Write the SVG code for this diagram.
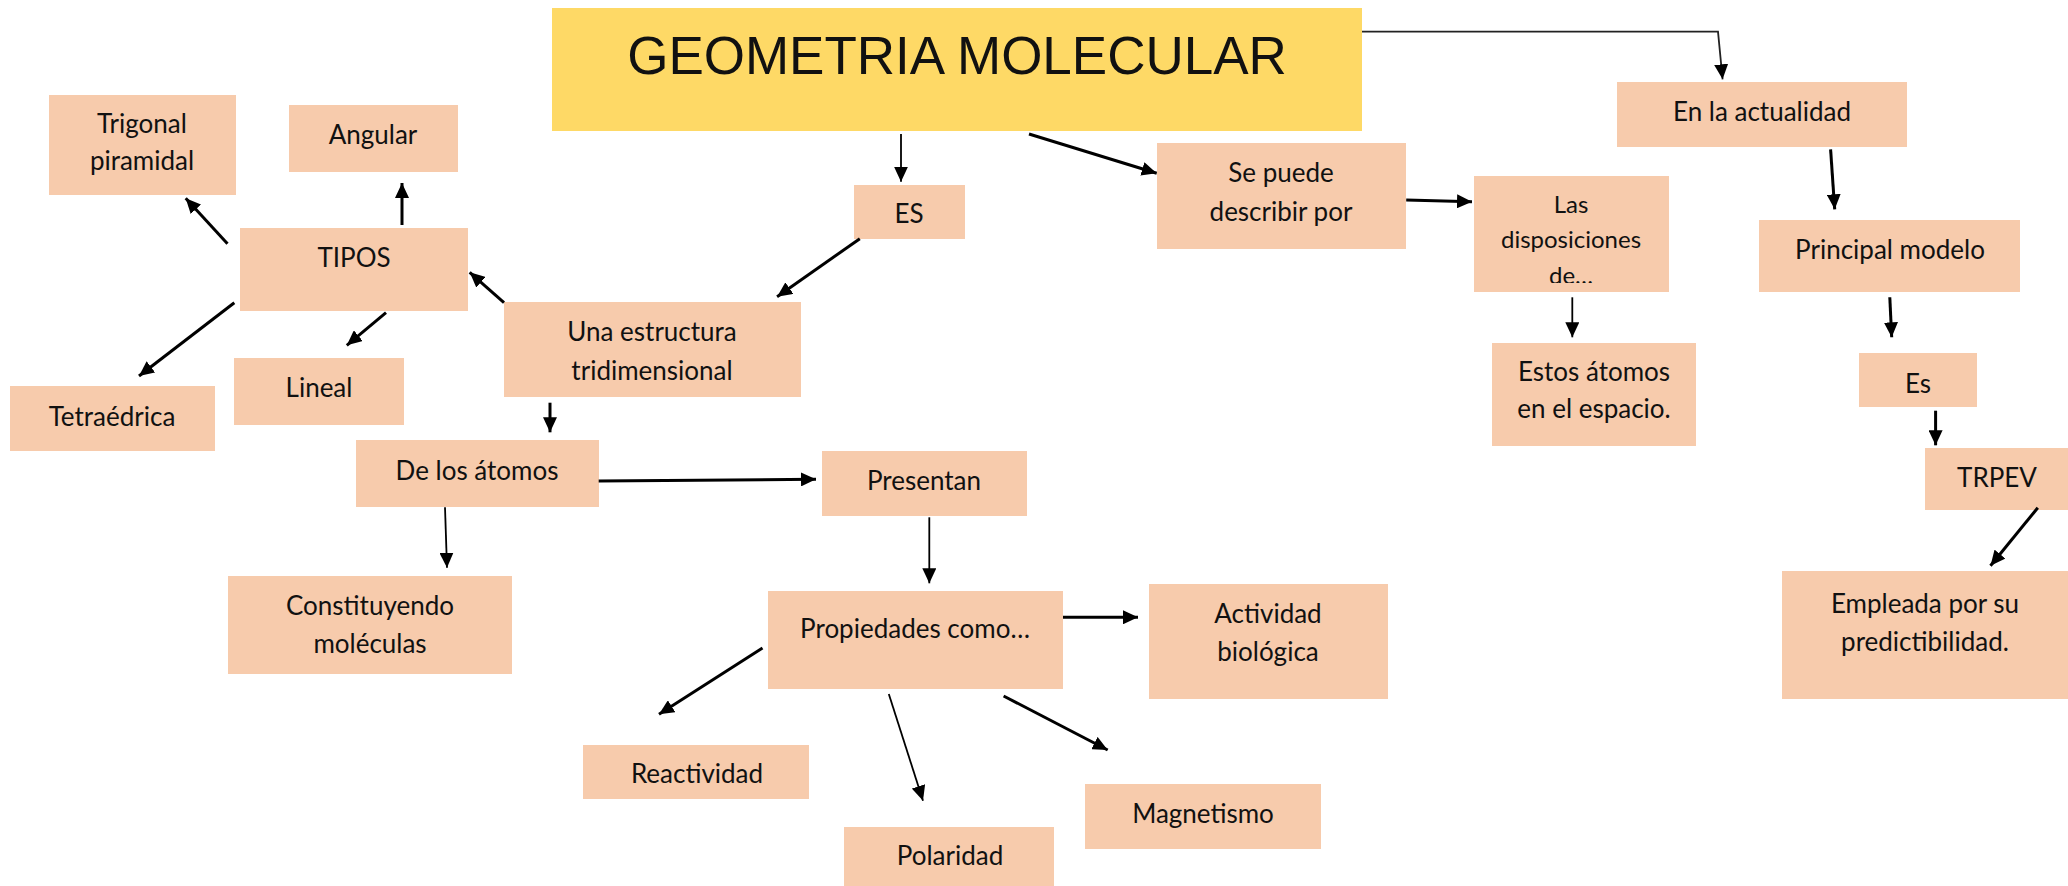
<svg xmlns="http://www.w3.org/2000/svg" width="2068" height="886" viewBox="0 0 2068 886">
<style>
.n{fill:#F7CBAC}
.t{font-family:Lato,"Liberation Sans",sans-serif;font-size:26px;fill:#111;text-anchor:middle}
.title{font-family:"Liberation Sans",Arial,sans-serif;font-size:53px;fill:#111;text-anchor:middle}
.c{stroke:#000;stroke-width:3;fill:none;marker-end:url(#ah)}
.th{stroke-width:1.8}
</style>
<defs>
<marker id="ah" markerUnits="userSpaceOnUse" markerWidth="16" markerHeight="14" refX="15" refY="7" orient="auto">
<path d="M0,0 L15,7 L0,14 Z" fill="#000"/>
</marker>
<clipPath id="clipLas"><rect x="1474" y="176" width="195" height="107"/></clipPath>
</defs>
<rect width="2068" height="886" fill="#fff"/>

<g id="title">
<rect x="552" y="8" width="810" height="123" fill="#FED966"/>
<text class="title" x="957" y="74">GEOMETRIA MOLECULAR</text>
</g>
<g id="trigonal"><rect class="n" x="49" y="95" width="187" height="100"/><text class="t" x="142" y="133">Trigonal</text><text class="t" x="142" y="170">piramidal</text></g>
<g id="angular"><rect class="n" x="289" y="105" width="169" height="67"/><text class="t" x="373" y="144">Angular</text></g>
<g id="tipos"><rect class="n" x="240" y="228" width="228" height="83"/><text class="t" x="354" y="267">TIPOS</text></g>
<g id="estructura"><rect class="n" x="504" y="302" width="297" height="95"/><text class="t" x="652" y="341">Una estructura</text><text class="t" x="652" y="380">tridimensional</text></g>
<g id="tetraedrica"><rect class="n" x="10" y="386" width="205" height="65"/><text class="t" x="112" y="426">Tetraédrica</text></g>
<g id="lineal"><rect class="n" x="234" y="358" width="170" height="67"/><text class="t" x="319" y="397">Lineal</text></g>
<g id="es"><rect class="n" x="854" y="185" width="111" height="54"/><text class="t" x="909" y="223">ES</text></g>
<g id="sepuede"><rect class="n" x="1157" y="143" width="249" height="106"/><text class="t" x="1281" y="182">Se puede</text><text class="t" x="1281" y="221">describir por</text></g>
<g id="disposiciones"><rect class="n" x="1474" y="176" width="195" height="116"/><g clip-path="url(#clipLas)"><text class="t" x="1571" y="213" style="font-size:24px">Las</text><text class="t" x="1571" y="248" style="font-size:24px">disposiciones</text><text class="t" x="1571" y="284" style="font-size:24px">de…</text></g></g>
<g id="estos"><rect class="n" x="1492" y="343" width="204" height="103"/><text class="t" x="1594" y="381">Estos átomos</text><text class="t" x="1594" y="418">en el espacio.</text></g>
<g id="actualidad"><rect class="n" x="1617" y="82" width="290" height="65"/><text class="t" x="1762" y="121">En la actualidad</text></g>
<g id="principal"><rect class="n" x="1759" y="220" width="261" height="72"/><text class="t" x="1890" y="259">Principal modelo</text></g>
<g id="es2"><rect class="n" x="1859" y="353" width="118" height="54"/><text class="t" x="1918" y="393">Es</text></g>
<g id="trpev"><rect class="n" x="1925" y="448" width="143" height="62"/><text class="t" x="1997" y="487">TRPEV</text></g>
<g id="empleada"><rect class="n" x="1782" y="571" width="286" height="128"/><text class="t" x="1925" y="613">Empleada por su</text><text class="t" x="1925" y="651">predictibilidad.</text></g>
<g id="atomos"><rect class="n" x="356" y="440" width="243" height="67"/><text class="t" x="477" y="480">De los átomos</text></g>
<g id="presentan"><rect class="n" x="822" y="451" width="205" height="65"/><text class="t" x="924" y="490">Presentan</text></g>
<g id="constituyendo"><rect class="n" x="228" y="576" width="284" height="98"/><text class="t" x="370" y="615">Constituyendo</text><text class="t" x="370" y="653">moléculas</text></g>
<g id="propiedades"><rect class="n" x="768" y="591" width="295" height="98"/><text class="t" x="915" y="638">Propiedades como…</text></g>
<g id="actividad"><rect class="n" x="1149" y="584" width="239" height="115"/><text class="t" x="1268" y="623">Actividad</text><text class="t" x="1268" y="661">biológica</text></g>
<g id="reactividad"><rect class="n" x="583" y="745" width="226" height="54"/><text class="t" x="697" y="783">Reactividad</text></g>
<g id="polaridad"><rect class="n" x="844" y="827" width="210" height="59"/><text class="t" x="950" y="865">Polaridad</text></g>
<g id="magnetismo"><rect class="n" x="1085" y="784" width="236" height="65"/><text class="t" x="1203" y="823">Magnetismo</text></g>

<g id="connectors">
<path class="c" d="M227.5,243.7 L185.7,198.3"/>
<path class="c" d="M402,225 L402,183"/>
<path class="c" d="M234.3,302.7 L139,376"/>
<path class="c" d="M386,312.7 L346.8,345.3"/>
<path class="c" d="M504,302.7 L469.7,272.3"/>
<path class="c" d="M550,402.7 L550,432.3"/>
<path class="c th" d="M901,134 L901,181.7"/>
<path class="c" d="M1029,134 L1156.7,173.3"/>
<path class="c" d="M1406.2,200 L1472,201.7"/>
<path class="c th" d="M1572.3,297.3 L1572.3,337.3"/>
<path class="c" d="M859.8,238.7 L777.1,296.7"/>
<path class="c th" style="stroke:#222" d="M1362,31.7 L1718,31.7 L1722.6,79.3"/>
<path class="c" d="M1830.6,149.3 L1834.7,209.3"/>
<path class="c" d="M1889.8,297.3 L1891.7,337.3"/>
<path class="c" d="M1935.6,410.7 L1935.6,445.3"/>
<path class="c" d="M2037.8,507.7 L1990.5,565.7"/>
<path class="c" d="M598.7,481 L816,479.3"/>
<path class="c th" d="M445,507.3 L447,567.7"/>
<path class="c th" d="M929.3,517.3 L929.3,583.3"/>
<path class="c" d="M1063,617.3 L1138,617.3"/>
<path class="c" d="M762.5,648 L659,714.3"/>
<path class="c th" d="M888.8,694 L923,800.7"/>
<path class="c" d="M1003.6,696 L1107.7,750"/>
</g>
</svg>
